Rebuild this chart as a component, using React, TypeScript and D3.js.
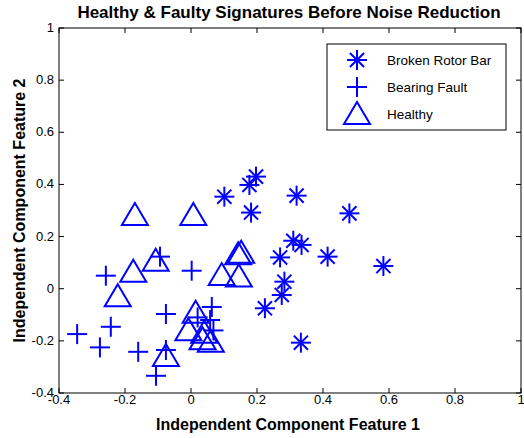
import React from "react";
import * as d3 from "d3";

const brokenX = [0.101, 0.177, 0.197, 0.182, 0.32, 0.48, 0.31, 0.335, 0.27, 0.414, 0.583, 0.283, 0.275, 0.224, 0.333];
const brokenY = [0.353, 0.398, 0.43, 0.292, 0.357, 0.289, 0.184, 0.168, 0.12, 0.123, 0.087, 0.027, -0.024, -0.075, -0.207];

const bearingX = [-0.345, -0.276, -0.243, -0.258, -0.16, -0.076, -0.094, -0.076, -0.106, 0.002, 0.063, 0.058, 0.068, 0.02];
const bearingY = [-0.174, -0.225, -0.146, 0.05, -0.242, -0.097, 0.123, -0.235, -0.334, 0.069, -0.07, -0.12, -0.16, -0.11];

const healthyX = [-0.17, 0.007, -0.175, -0.222, -0.107, 0.093, 0.143, 0.152, 0.145, 0.014, -0.008, 0.04, 0.035, 0.06, -0.076];
const healthyY = [0.287, 0.287, 0.069, -0.025, 0.111, 0.056, 0.136, 0.142, 0.051, -0.088, -0.155, -0.165, -0.19, -0.2, -0.254];

const xTicks = [-0.4, -0.2, 0, 0.2, 0.4, 0.6, 0.8, 1];
const yTicks = [-0.4, -0.2, 0, 0.2, 0.4, 0.6, 0.8, 1];
const legendLabels = ["Broken Rotor Bar", "Bearing Fault", "Healthy"];

const BLUE = "#0000ff";
const FONT = "'Liberation Sans', Arial, Helvetica, sans-serif";

const L = 59, R = 521, T = 28, B = 393;

function Asterisk({ x, y }: { x: number; y: number }) {
  const r = 10, d = r * 0.707;
  return (
    <g stroke={BLUE} strokeWidth={2} fill="none">
      <line x1={x - r} y1={y} x2={x + r} y2={y} />
      <line x1={x} y1={y - r} x2={x} y2={y + r} />
      <line x1={x - d} y1={y - d} x2={x + d} y2={y + d} />
      <line x1={x - d} y1={y + d} x2={x + d} y2={y - d} />
    </g>
  );
}
function Plus({ x, y }: { x: number; y: number }) {
  const r = 10;
  return (
    <g stroke={BLUE} strokeWidth={2} fill="none">
      <line x1={x - r} y1={y} x2={x + r} y2={y} />
      <line x1={x} y1={y - r} x2={x} y2={y + r} />
    </g>
  );
}
function Tri({ x, y }: { x: number; y: number }) {
  const w = 13, h = 11;
  return (
    <path d={`M${x},${y - h}L${x + w},${y + h}L${x - w},${y + h}Z`} stroke={BLUE} strokeWidth={2} fill="none" />
  );
}

export default function App() {
  const xs = d3.scaleLinear().domain([-0.4, 1]).range([L, R]);
  const ys = d3.scaleLinear().domain([-0.4, 1]).range([B, T]);
  const fmt = (v: number) => (v === 0 ? "0" : String(Math.round(v * 10) / 10));
  return (
    <svg width={524} height={438} style={{ position: "absolute", left: 0, top: 0, background: "#fff" }} fontFamily={FONT}>
      <rect x={0} y={0} width={524} height={438} fill="#fff" />
      <text x={(L + R) / 2 - 1} y={18} textAnchor="middle" fontSize={17} fontWeight="bold">
        Healthy &amp; Faulty Signatures Before Noise Reduction
      </text>
      {/* data */}
      {healthyX.map((v, i) => <Tri key={"h" + i} x={xs(v)} y={ys(healthyY[i])} />)}
      {bearingX.map((v, i) => <Plus key={"b" + i} x={xs(v)} y={ys(bearingY[i])} />)}
      {brokenX.map((v, i) => <Asterisk key={"r" + i} x={xs(v)} y={ys(brokenY[i])} />)}
      {/* axes box */}
      <rect x={L} y={T} width={R - L} height={B - T} fill="none" stroke="#000" strokeWidth={1} />
      {xTicks.map((t) => (
        <g key={"xt" + t}>
          <line x1={xs(t)} x2={xs(t)} y1={B} y2={B - 5} stroke="#000" />
          <line x1={xs(t)} x2={xs(t)} y1={T} y2={T + 5} stroke="#000" />
          <text x={xs(t)} y={B + 11} textAnchor="middle" fontSize={13}>{fmt(t)}</text>
        </g>
      ))}
      {yTicks.map((t) => (
        <g key={"yt" + t}>
          <line x1={L} x2={L + 5} y1={ys(t)} y2={ys(t)} stroke="#000" />
          <line x1={R} x2={R - 5} y1={ys(t)} y2={ys(t)} stroke="#000" />
          <text x={L - 5} y={ys(t) + 4} textAnchor="end" fontSize={13}>{fmt(t)}</text>
        </g>
      ))}
      <text x={(L + R) / 2 - 2} y={430} textAnchor="middle" fontSize={16} fontWeight="bold">
        Independent Component Feature 1
      </text>
      <text transform={`translate(25,${(T + B) / 2}) rotate(-90)`} textAnchor="middle" fontSize={16} fontWeight="bold">
        Independent Component Feature 2
      </text>
      {/* legend */}
      <rect x={327} y={44} width={179} height={86} fill="#fff" stroke="#000" strokeWidth={1} />
      <Asterisk x={357} y={60} />
      <Plus x={357} y={87} />
      <Tri x={357} y={113} />
      {legendLabels.map((s, i) => (
        <text key={s} x={387} y={65 + i * 27} fontSize={13.5}>{s}</text>
      ))}
    </svg>
  );
}
